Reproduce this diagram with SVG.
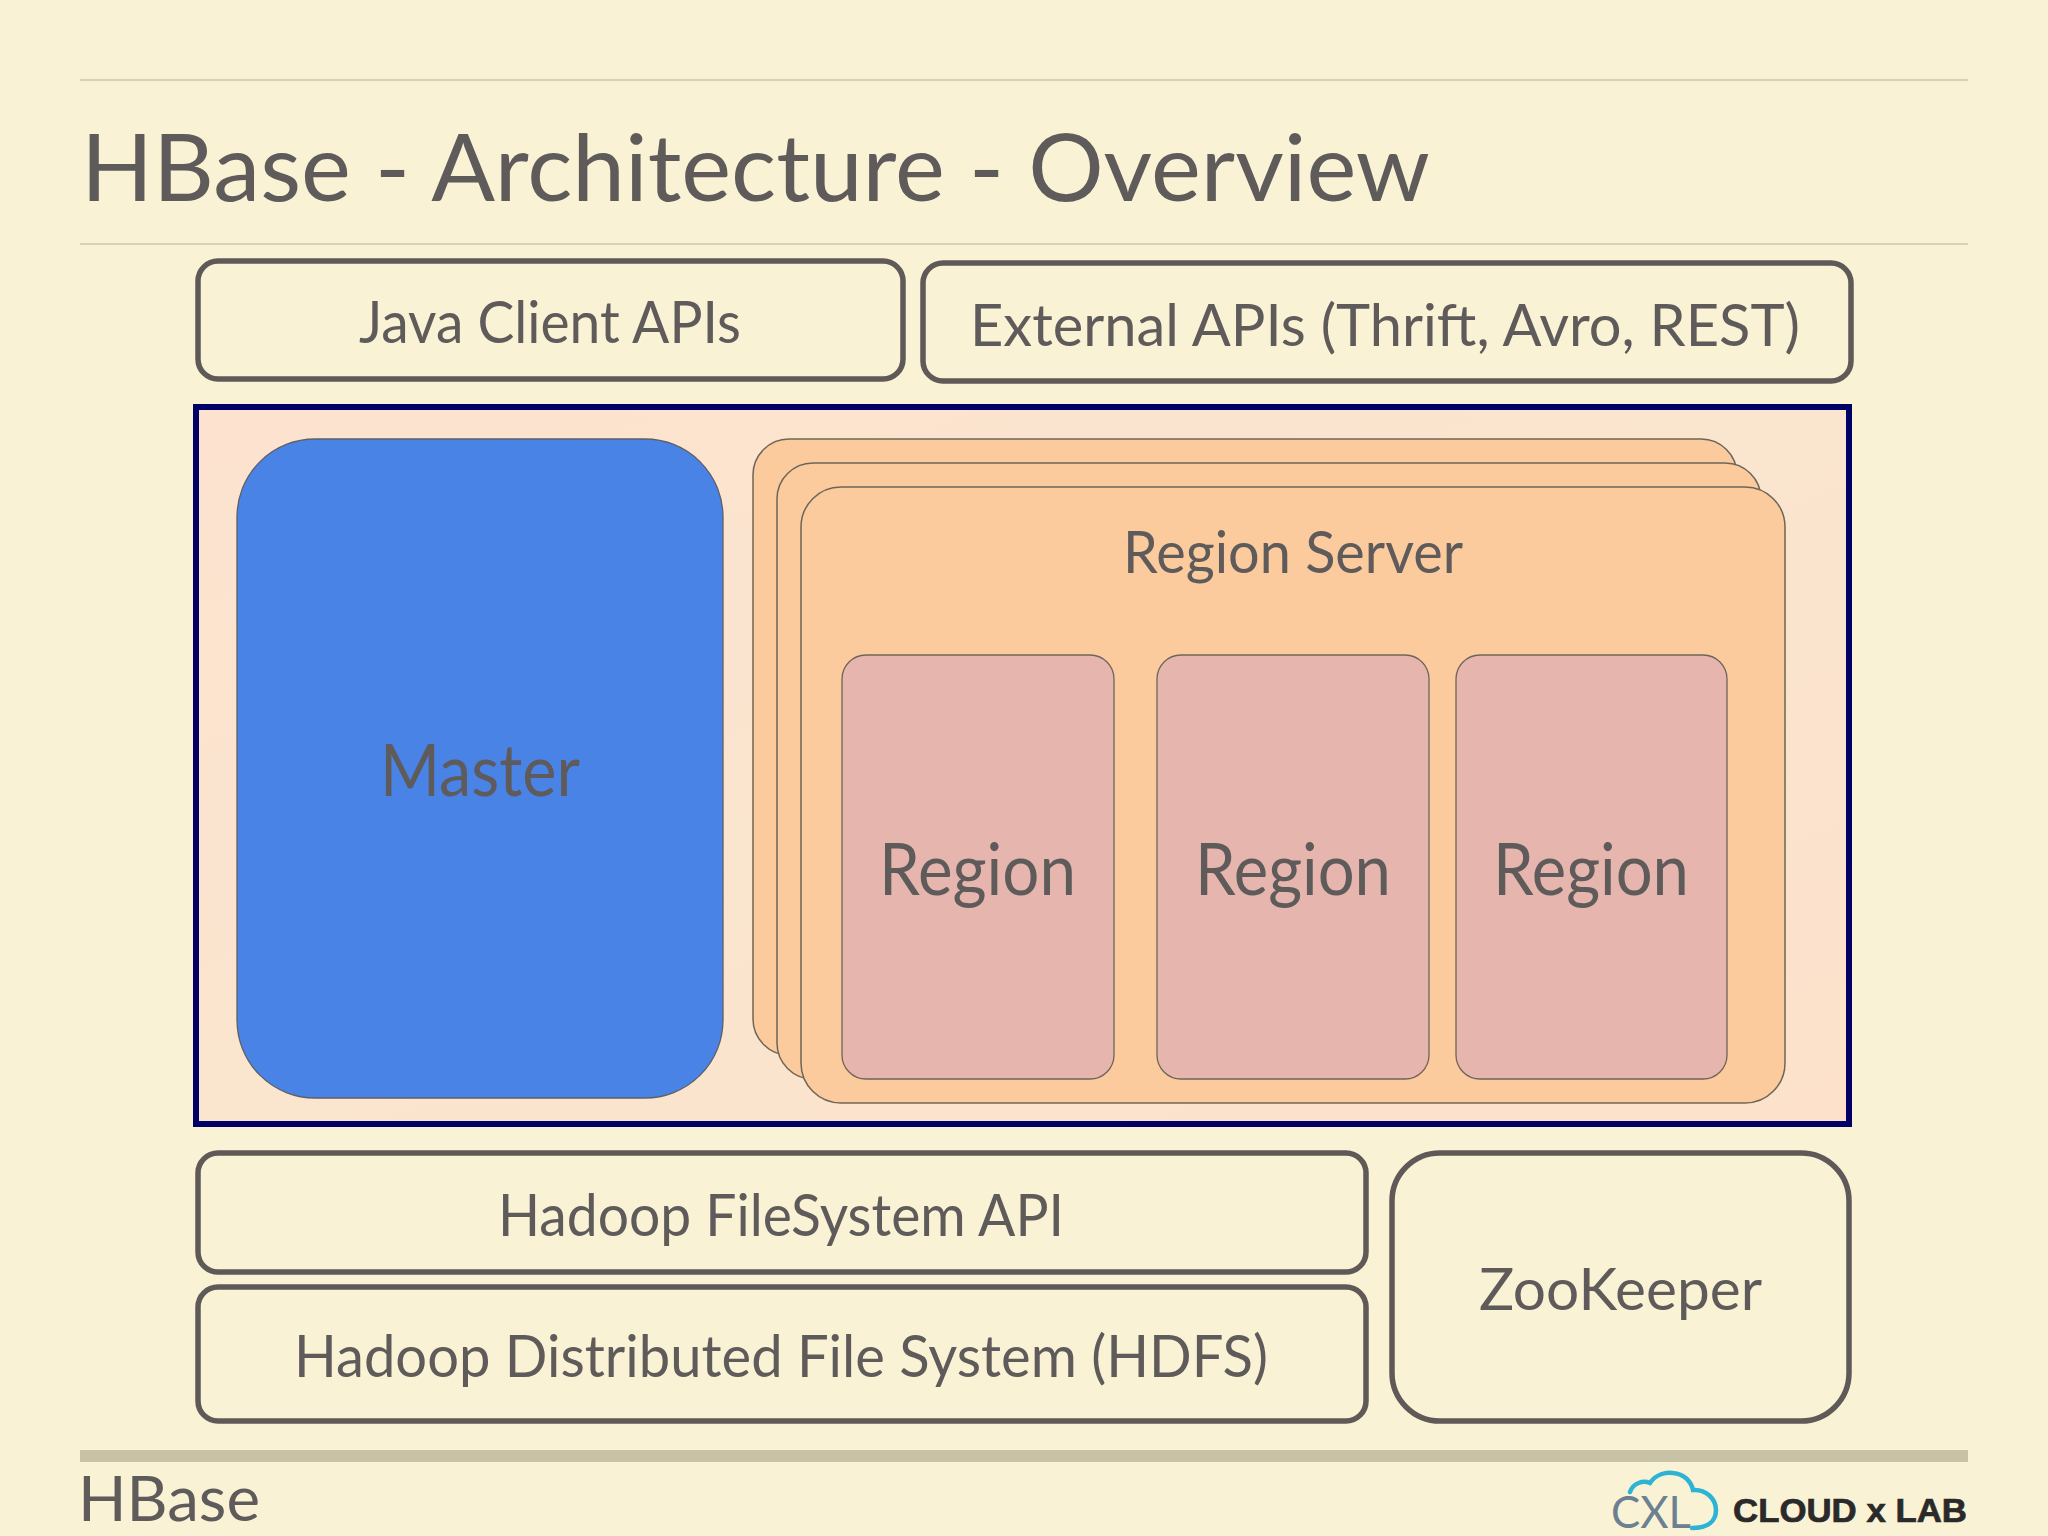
<svg xmlns="http://www.w3.org/2000/svg" width="2048" height="1536" viewBox="0 0 2048 1536">
<defs>
<linearGradient id="core" x1="0" y1="0" x2="1" y2="1"><stop offset="0" stop-color="#fde3cf"/><stop offset="0.5" stop-color="#fae5cf"/><stop offset="1" stop-color="#fde1cb"/></linearGradient>
</defs>
<style>
text{font-family:"Lato","Open Sans",sans-serif;fill:#5f5b5b;text-anchor:start}
.api{fill:none;stroke:#5f5a58;stroke-width:5.5}
.rs{fill:#fbcb9d;stroke:#6e6558;stroke-width:1.5}
.rg{fill:#e6b5ae;stroke:#6e6558;stroke-width:1.3}
.t{font-size:59px}
.b{font-size:72px}
</style>
<rect id="background" width="2048" height="1536" fill="#faf2d4"/>
<g id="rules">
<rect x="80" y="79" width="1888" height="2" fill="#d8d1b5"/>
<rect x="80" y="243" width="1888" height="2" fill="#d8d1b5"/>
<rect x="80" y="1450" width="1888" height="12" fill="#c8c3a6"/>
</g>
<text id="title" x="81" y="201" font-size="94" textLength="1349" lengthAdjust="spacingAndGlyphs">HBase - Architecture - Overview</text>
<g id="java-client-apis"><rect class="api" x="198" y="261" width="705" height="118" rx="20"/><text class="t" x="359" y="343" textLength="382" lengthAdjust="spacingAndGlyphs">Java Client APIs</text></g>
<g id="external-apis"><rect class="api" x="923" y="263" width="928" height="118" rx="20"/><text class="t" x="970" y="346" textLength="830" lengthAdjust="spacingAndGlyphs">External APIs (Thrift, Avro, REST)</text></g>
<g id="hbase-core"><rect x="196" y="407" width="1653" height="717" fill="url(#core)" stroke="#000066" stroke-width="6"/></g>
<g id="master"><rect x="237" y="439" width="486" height="659" rx="78" fill="#4a83e6" stroke="#5f5f66" stroke-width="1.3"/><text class="b" x="380" y="796" textLength="200" lengthAdjust="spacingAndGlyphs">Master</text></g>
<g id="region-server-back-2"><rect class="rs" x="753" y="439" width="984" height="616" rx="36"/></g>
<g id="region-server-back-1"><rect class="rs" x="777" y="463" width="984" height="616" rx="36"/></g>
<g id="region-server"><rect class="rs" x="801" y="487" width="984" height="616" rx="40"/><text class="t" x="1123" y="573" textLength="340" lengthAdjust="spacingAndGlyphs">Region Server</text></g>
<g id="region-1"><rect class="rg" x="842" y="655" width="272" height="424" rx="24"/><text class="b" x="879" y="895" textLength="197" lengthAdjust="spacingAndGlyphs">Region</text></g>
<g id="region-2"><rect class="rg" x="1157" y="655" width="272" height="424" rx="24"/><text class="b" x="1195" y="895" textLength="196" lengthAdjust="spacingAndGlyphs">Region</text></g>
<g id="region-3"><rect class="rg" x="1456" y="655" width="271" height="424" rx="24"/><text class="b" x="1493" y="895" textLength="196" lengthAdjust="spacingAndGlyphs">Region</text></g>
<g id="hadoop-filesystem-api"><rect class="api" x="198" y="1153" width="1168" height="119" rx="20"/><text class="t" x="498" y="1236" textLength="566" lengthAdjust="spacingAndGlyphs">Hadoop FileSystem API</text></g>
<g id="hdfs"><rect class="api" x="198" y="1287" width="1168" height="134" rx="20"/><text class="t" x="294" y="1377" textLength="974" lengthAdjust="spacingAndGlyphs">Hadoop Distributed File System (HDFS)</text></g>
<g id="zookeeper"><rect class="api" x="1392" y="1153" width="457" height="268" rx="48"/><text class="t" x="1479" y="1310" textLength="283" lengthAdjust="spacingAndGlyphs">ZooKeeper</text></g>
<text id="footer" x="78" y="1521" font-size="62" textLength="182" lengthAdjust="spacingAndGlyphs">HBase</text>
<g id="logo">
<path d="M1630 1492C1633 1483 1643 1480 1650 1483C1656 1474 1666 1472 1673 1473C1684 1474 1691 1481 1693 1490C1706 1489 1716 1499 1716 1510C1716 1521 1708 1528 1692 1528" fill="none" stroke="#2cb3d6" stroke-width="4.5" stroke-linecap="round"/>
<text x="1611" y="1528" font-size="45" style="font-weight:400;fill:#6b8091" textLength="80" lengthAdjust="spacingAndGlyphs">CXL</text>
<text x="1733" y="1522" font-size="33" style="font-family:'Liberation Sans',sans-serif;font-weight:700;fill:#2a2a2a;stroke:#2a2a2a;stroke-width:.7" textLength="234" lengthAdjust="spacingAndGlyphs">CLOUD x LAB</text>
</g>
</svg>
